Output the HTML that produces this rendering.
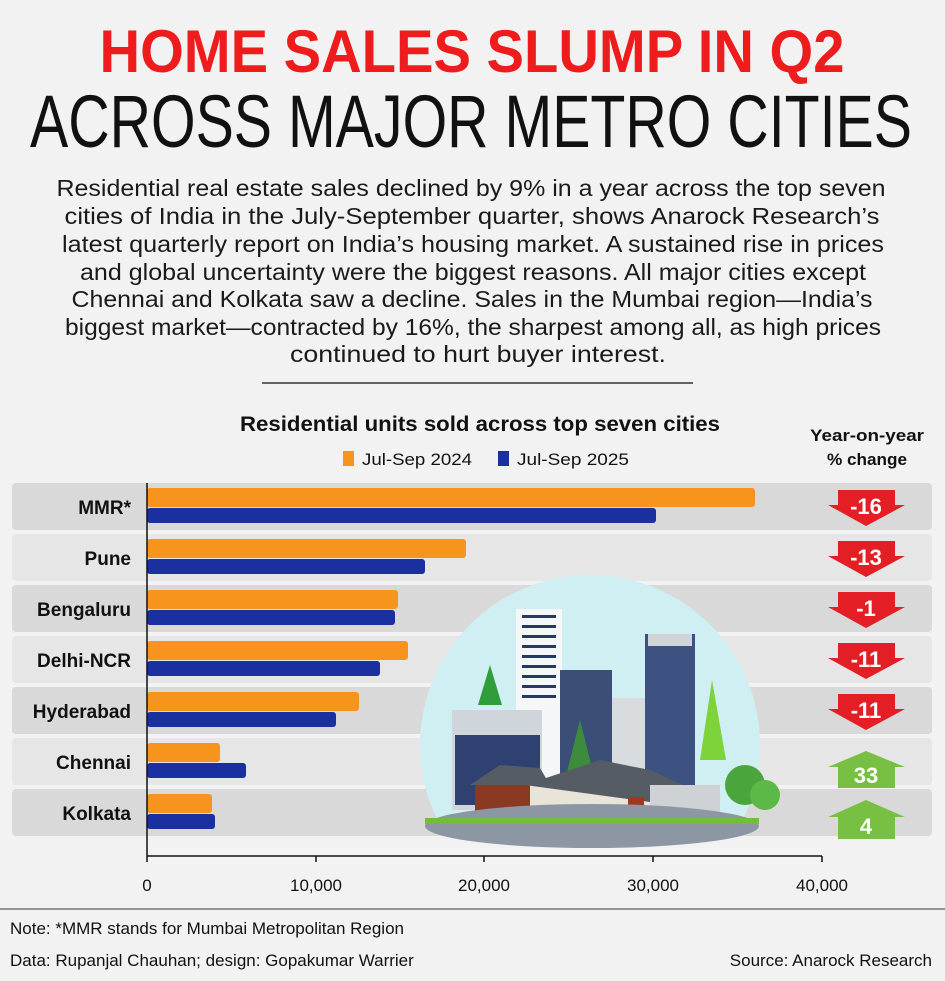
<!DOCTYPE html><html><head><style>body{margin:0;background:#f2f2f2}svg{display:block}</style></head><body>
<svg width="945" height="981" xmlns="http://www.w3.org/2000/svg" font-family="Liberation Sans, sans-serif">
<rect width="945" height="981" fill="#f2f2f2"/>
<text x="472" y="72" text-anchor="middle" font-size="60" font-weight="bold" fill="#ee1c1c" textLength="745" lengthAdjust="spacingAndGlyphs">HOME SALES SLUMP IN Q2</text>
<text x="471" y="147" text-anchor="middle" font-size="74" fill="#111" textLength="882" lengthAdjust="spacingAndGlyphs">ACROSS MAJOR METRO CITIES</text>
<g font-size="23" fill="#1a1a1a" text-anchor="middle">
<text x="471" y="196" textLength="829" lengthAdjust="spacingAndGlyphs">Residential real estate sales declined by 9% in a year across the top seven</text>
<text x="472" y="224" textLength="815" lengthAdjust="spacingAndGlyphs">cities of India in the July-September quarter, shows Anarock Research’s</text>
<text x="473" y="252" textLength="822" lengthAdjust="spacingAndGlyphs">latest quarterly report on India’s housing market. A sustained rise in prices</text>
<text x="473" y="280" textLength="786" lengthAdjust="spacingAndGlyphs">and global uncertainty were the biggest reasons. All major cities except</text>
<text x="472" y="307" textLength="801" lengthAdjust="spacingAndGlyphs">Chennai and Kolkata saw a decline. Sales in the Mumbai region—India’s</text>
<text x="473" y="335" textLength="816" lengthAdjust="spacingAndGlyphs">biggest market—contracted by 16%, the sharpest among all, as high prices</text>
<text x="478" y="362" textLength="376" lengthAdjust="spacingAndGlyphs">continued to hurt buyer interest.</text>
</g>
<line x1="262" y1="383" x2="693" y2="383" stroke="#333" stroke-width="1.5"/>
<text x="480" y="431" text-anchor="middle" font-size="21" font-weight="bold" fill="#111" textLength="480" lengthAdjust="spacingAndGlyphs">Residential units sold across top seven cities</text>
<rect x="343" y="451" width="11" height="15" fill="#f7941d"/>
<text x="362" y="465" font-size="17" fill="#111" textLength="110" lengthAdjust="spacingAndGlyphs">Jul-Sep 2024</text>
<rect x="498" y="451" width="11" height="15" fill="#1a2fa0"/>
<text x="517" y="465" font-size="17" fill="#111" textLength="112" lengthAdjust="spacingAndGlyphs">Jul-Sep 2025</text>
<text x="867" y="441" text-anchor="middle" font-size="17" font-weight="bold" fill="#111" textLength="114" lengthAdjust="spacingAndGlyphs">Year-on-year</text>
<text x="867" y="465" text-anchor="middle" font-size="17" font-weight="bold" fill="#111" textLength="80" lengthAdjust="spacingAndGlyphs">% change</text>
<g>
<rect x="12" y="483" width="920" height="47" rx="4" fill="#d9d9d9"/>
<rect x="12" y="534" width="920" height="47" rx="4" fill="#e6e6e6"/>
<rect x="12" y="585" width="920" height="47" rx="4" fill="#d9d9d9"/>
<rect x="12" y="636" width="920" height="47" rx="4" fill="#e6e6e6"/>
<rect x="12" y="687" width="920" height="47" rx="4" fill="#d9d9d9"/>
<rect x="12" y="738" width="920" height="47" rx="4" fill="#e6e6e6"/>
<rect x="12" y="789" width="920" height="47" rx="4" fill="#d9d9d9"/>
</g>
<g font-size="19" font-weight="bold" fill="#111" text-anchor="end">
<text x="131" y="514">MMR*</text><text x="131" y="565">Pune</text><text x="131" y="616">Bengaluru</text>
<text x="131" y="667">Delhi-NCR</text><text x="131" y="718">Hyderabad</text><text x="131" y="769">Chennai</text><text x="131" y="820">Kolkata</text>
</g>
<g>
<rect x="147" y="488" width="608" height="19" rx="3" fill="#f7941d"/><rect x="147" y="508" width="509" height="15" rx="3" fill="#1a2fa0"/>
<rect x="147" y="539" width="319" height="19" rx="3" fill="#f7941d"/><rect x="147" y="559" width="278" height="15" rx="3" fill="#1a2fa0"/>
<rect x="147" y="590" width="251" height="19" rx="3" fill="#f7941d"/><rect x="147" y="610" width="248" height="15" rx="3" fill="#1a2fa0"/>
<rect x="147" y="641" width="261" height="19" rx="3" fill="#f7941d"/><rect x="147" y="661" width="233" height="15" rx="3" fill="#1a2fa0"/>
<rect x="147" y="692" width="212" height="19" rx="3" fill="#f7941d"/><rect x="147" y="712" width="189" height="15" rx="3" fill="#1a2fa0"/>
<rect x="147" y="743" width="73" height="19" rx="3" fill="#f7941d"/><rect x="147" y="763" width="99" height="15" rx="3" fill="#1a2fa0"/>
<rect x="147" y="794" width="65" height="19" rx="3" fill="#f7941d"/><rect x="147" y="814" width="68" height="15" rx="3" fill="#1a2fa0"/>
</g>
<!-- illustration -->
<defs><clipPath id="c"><rect x="400" y="500" width="400" height="330"/></clipPath></defs>
<circle cx="590" cy="745" r="170" fill="#cfeff2" clip-path="url(#c)"/>
<rect x="516" y="609" width="46" height="200" fill="#f4f6f8"/>
<g fill="#263a5e"><rect x="522" y="615" width="34" height="3"/><rect x="522" y="625" width="34" height="3"/><rect x="522" y="635" width="34" height="3"/><rect x="522" y="645" width="34" height="3"/><rect x="522" y="655" width="34" height="3"/><rect x="522" y="665" width="34" height="3"/><rect x="522" y="675" width="34" height="3"/><rect x="522" y="685" width="34" height="3"/><rect x="522" y="695" width="34" height="3"/></g>
<rect x="560" y="670" width="52" height="140" fill="#3a4e78"/>
<rect x="612" y="698" width="40" height="110" fill="#d8dcdf"/>
<rect x="645" y="634" width="50" height="180" fill="#3e5281"/>
<rect x="648" y="634" width="44" height="12" fill="#cfd4d8"/>
<rect x="452" y="710" width="90" height="100" fill="#cfd5da"/>
<rect x="455" y="735" width="85" height="70" fill="#2e4170"/>
<polygon points="478,705 490,665 502,705" fill="#2f9e3a"/>
<polygon points="700,760 712,680 726,760" fill="#7ed23a"/>
<polygon points="565,780 580,720 595,780" fill="#3c8c3c"/>
<circle cx="745" cy="785" r="20" fill="#4aa63c"/><circle cx="765" cy="795" r="15" fill="#5cb847"/>
<rect x="475" y="782" width="55" height="40" fill="#8a3a22"/>
<polygon points="470,785 500,765 540,768 550,785" fill="#555c64"/>
<rect x="530" y="785" width="120" height="38" fill="#e9e4d8"/>
<polygon points="525,785 600,760 650,770 720,802 650,802" fill="#555c64"/>
<rect x="650" y="785" width="70" height="38" fill="#cfd2d4"/>
<rect x="628" y="797" width="16" height="25" fill="#9b3a1f"/>
<ellipse cx="592" cy="826" rx="167" ry="22" fill="#8c97a3"/>
<rect x="425" y="818" width="334" height="6" fill="#6fbf3d"/>
<!-- arrows -->
<g>
<polygon points="838,490 895,490 895,505 905,505 866,526 828,505 838,505" fill="#e31e24"/>
<polygon points="838,541 895,541 895,556 905,556 866,577 828,556 838,556" fill="#e31e24"/>
<polygon points="838,592 895,592 895,607 905,607 866,628 828,607 838,607" fill="#e31e24"/>
<polygon points="838,643 895,643 895,658 905,658 866,679 828,658 838,658" fill="#e31e24"/>
<polygon points="838,694 895,694 895,709 905,709 866,730 828,709 838,709" fill="#e31e24"/>
<polygon points="866,751 905,767 895,767 895,788 838,788 838,767 828,767" fill="#77c043"/>
<polygon points="866,800 905,817 895,817 895,839 838,839 838,817 828,817" fill="#77c043"/>
</g>
<g font-size="22" font-weight="bold" fill="#fff" text-anchor="middle">
<text x="866" y="514">-16</text><text x="866" y="565">-13</text><text x="866" y="616">-1</text><text x="866" y="667">-11</text><text x="866" y="718">-11</text><text x="866" y="783">33</text><text x="866" y="834">4</text>
</g>
<line x1="147" y1="483" x2="147" y2="862" stroke="#111" stroke-width="1.5"/>
<line x1="147" y1="856" x2="822" y2="856" stroke="#111" stroke-width="1.5"/>
<g stroke="#111" stroke-width="1.5"><line x1="316" y1="856" x2="316" y2="862"/><line x1="484" y1="856" x2="484" y2="862"/><line x1="653" y1="856" x2="653" y2="862"/><line x1="822" y1="856" x2="822" y2="862"/></g>
<g font-size="17" fill="#111" text-anchor="middle">
<text x="147" y="891">0</text><text x="316" y="891">10,000</text><text x="484" y="891">20,000</text><text x="653" y="891">30,000</text><text x="822" y="891">40,000</text>
</g>
<line x1="0" y1="909" x2="945" y2="909" stroke="#333" stroke-width="1"/>
<text x="10" y="934" font-size="17" fill="#111">Note: *MMR stands for Mumbai Metropolitan Region</text>
<text x="10" y="966" font-size="17" fill="#111">Data: Rupanjal Chauhan; design: Gopakumar Warrier</text>
<text x="932" y="966" font-size="17" fill="#111" text-anchor="end">Source: Anarock Research</text>
</svg>
</body></html>
